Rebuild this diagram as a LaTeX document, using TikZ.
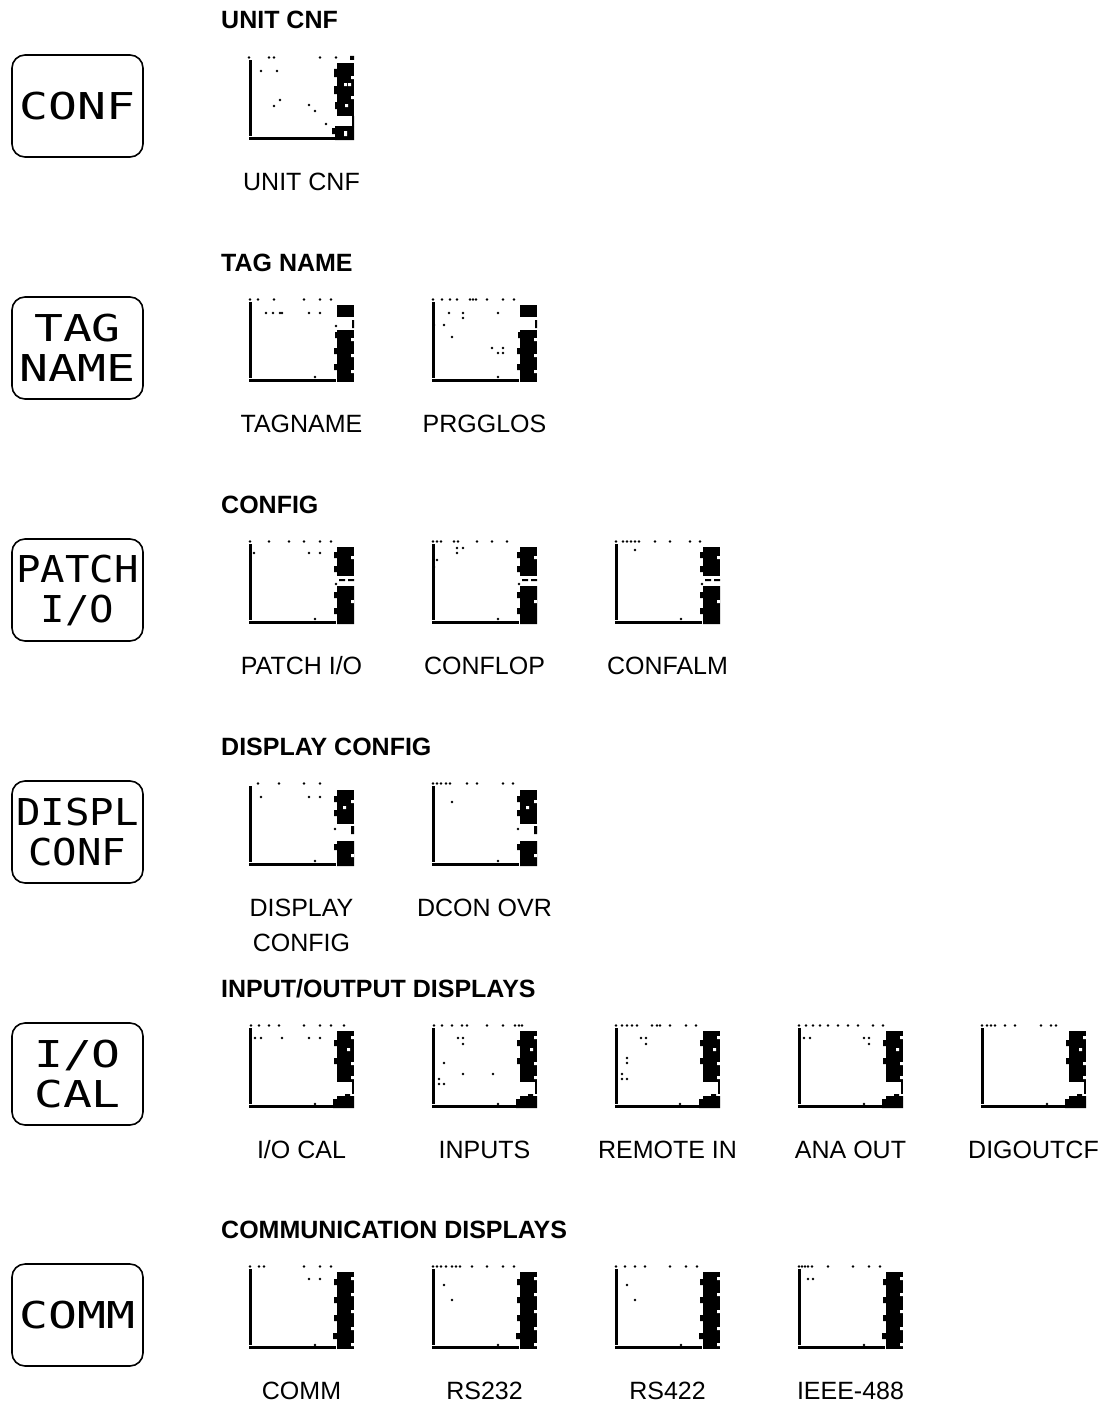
\documentclass[tikz,border=0pt]{standalone}
\usepackage{fontspec}
\setmainfont{Liberation Sans}
\newfontfamily\lcdwide[FakeStretch=1.3]{DejaVu Sans Mono}
\newfontfamily\lcdnarrow[FakeStretch=1.1]{DejaVu Sans Mono}
\usepackage{tikz}
\usetikzlibrary{positioning}
\tikzset{
  keybtn/.style={draw, line width=1.6pt, rounded corners=13pt, minimum width=131pt, minimum height=102pt, inner sep=0pt, align=center, font=\lcdwide\fontsize{37}{40}\selectfont},
  keynarrow/.style={keybtn, font=\lcdnarrow\fontsize{37}{40}\selectfont},
  grouphead/.style={anchor=base west, inner sep=0pt, font=\bfseries\fontsize{25}{30}\selectfont},
  screenbox/.style={rectangle, minimum width=105pt, minimum height=84pt, inner sep=0pt, outer sep=0pt},
  screenlabel/.style={inner sep=0pt, align=center, font=\fontsize{25}{35}\selectfont},
  slashlabel/.style={screenlabel, yshift=1pt},
}
\newcommand\screen[3]{%
  \begin{scope}[shift={(#1.north west)}]
    \fill (0,4) rectangle (2.5,80);
    \fill (0,81) rectangle (87,84);
    #2
    \foreach \px/\py in {#3} \fill (\px,\py) circle (1.4);
  \end{scope}}
\newcommand\blobunit{%
  \fill (88,7) rectangle (105,60);
  \fill (85,13) rectangle (88,21) (85,30) rectangle (88,38) (86,46) rectangle (88,53);
  \fill (86,70) rectangle (105,84) (83,72) rectangle (86,78);
  \fill (103,60) rectangle (105,70) (101,0) rectangle (105,4);
  \fill[white] (95,27) rectangle (98,30) (99,27) rectangle (102,30) (96,48) rectangle (99,51)
    (102,20) rectangle (105,23) (102,40) rectangle (105,43) (95,75) rectangle (98,80);}
\newcommand\blobtag{%
  \fill (88,7) rectangle (105,19);
  \fill (88,32) rectangle (105,84);
  \fill (86,34) rectangle (88,40) (85,50) rectangle (88,56) (85,66) rectangle (88,72) (103,22) rectangle (105,30);
  \fill[white] (102,40) rectangle (105,43) (102,56) rectangle (105,59) (102,72) rectangle (105,75);}
\newcommand\blobconfig{%
  \fill (88,7) rectangle (105,36);
  \fill (85,12) rectangle (88,18) (85,26) rectangle (88,32);
  \fill (90,39) rectangle (96,41) (99,39) rectangle (105,41);
  \fill (88,46) rectangle (105,84) (85,52) rectangle (88,58) (85,68) rectangle (88,74);
  \fill[white] (102,16) rectangle (105,19) (102,60) rectangle (105,63);}
\newcommand\blobdisp{%
  \fill (88,8) rectangle (105,42);
  \fill (85,14) rectangle (88,20) (85,28) rectangle (88,34) (102,44) rectangle (105,52);
  \fill (88,59) rectangle (105,84) (85,62) rectangle (88,68);
  \fill[white] (102,18) rectangle (105,21) (94,24) rectangle (97,27) (102,72) rectangle (105,75);}
\newcommand\blobio{%
  \fill (88,7) rectangle (105,58);
  \fill (85,16) rectangle (88,22) (85,34) rectangle (88,40);
  \fill (103,58) rectangle (105,70);
  \fill (88,72) rectangle (105,84) (84,75) rectangle (88,84) (96,70) rectangle (101,72);
  \fill[white] (102,12) rectangle (105,15) (98,24) rectangle (101,27) (102,38) rectangle (105,41) (102,52) rectangle (105,55);}
\newcommand\blobcomm{%
  \fill (88,7) rectangle (105,84);
  \fill (85,14) rectangle (88,20) (85,32) rectangle (88,38) (85,50) rectangle (88,56) (84,68) rectangle (88,74);
  \fill[white] (102,12) rectangle (105,15) (102,28) rectangle (105,31) (102,45) rectangle (105,48) (102,62) rectangle (105,65) (102,78) rectangle (105,81);}

\begin{document}
\begin{tikzpicture}[x=1pt,y=-1pt]
\useasboundingbox (0,0) rectangle (1112,1405);

% UNIT CNF
\node[grouphead] (hunit) at (221,29) {UNIT CNF};
\node[keybtn] (kconf) at (77.5,106) {CONF};
\node[screenbox] (sunit) at (301.5,98) {};
\node[screenlabel,below=33pt of sunit] (lunit) {UNIT CNF};
\screen{sunit}{\blobunit}{0/1.5,20/1.5,25/1.5,71/1.5,87/1.5,12/15,28/15,31/44,25/50,60/49,66/55,77/68}

% TAG NAME
\node[grouphead] (htag) at (221,271) {TAG NAME};
\node[keybtn] (ktag) at (77.5,348) {TAG\\NAME};
\node[screenbox] (stagname) at (301.5,340) {};
\node[screenbox,right=78pt of stagname] (sprgglos) {};
\node[screenlabel,below=33pt of stagname] (ltagname) {TAGNAME};
\node[screenlabel,below=33pt of sprgglos] (lprgglos) {PRGGLOS};
\screen{stagname}{\blobtag}{1/1.5,9/1.5,25/1.5,55/1.5,71/1.5,82/1.5,17/15,24/15,31/15,33/15,60/15,71/15,87/28,66/79}
\screen{sprgglos}{\blobtag}{1/1.5,10/1.5,18/1.5,25/1.5,38/1.5,41/1.5,44/1.5,55/1.5,71/1.5,82/1.5,17/15,31/15,31/20,66/15,2/27,12/27,20/39,60/50,71/50,66/55,71/55,66/79}

% CONFIG
\node[grouphead] (hconfig) at (221,513) {CONFIG};
\node[keynarrow] (kpatch) at (77.5,590) {PATCH\\I/O};
\node[screenbox] (spatch) at (301.5,582) {};
\node[screenbox,right=78pt of spatch] (sconflop) {};
\node[screenbox,right=78pt of sconflop] (sconfalm) {};
\node[slashlabel,below=33pt of spatch] (lpatch) {PATCH I/O};
\node[screenlabel,below=33pt of sconflop] (lconflop) {CONFLOP};
\node[screenlabel,below=33pt of sconfalm] (lconfalm) {CONFALM};
\screen{spatch}{\blobconfig}{1/1.5,20/1.5,40/1.5,55/1.5,71/1.5,82/1.5,5/13,60/13,71/13,87/44,66/79}
\screen{sconflop}{\blobconfig}{1/1.5,5/1.5,9/1.5,22/1.5,26/1.5,45/1.5,60/1.5,75/1.5,25/8,25/13,31/8,5/20,2/27,87/44,66/79}
\screen{sconfalm}{\blobconfig}{1/1.5,8/1.5,12/1.5,16/1.5,20/1.5,24/1.5,40/1.5,55/1.5,75/1.5,85/1.5,20/10,87/44,66/79}

% DISPLAY CONFIG
\node[grouphead] (hdispl) at (221,755) {DISPLAY CONFIG};
\node[keynarrow] (kdispl) at (77.5,832) {DISPL\\CONF};
\node[screenbox] (sdispconf) at (301.5,824) {};
\node[screenbox,right=78pt of sdispconf] (sdconovr) {};
\node[screenlabel,below=33pt of sdispconf] (ldispconf) {DISPLAY\\CONFIG};
\node[screenlabel,below=33pt of sdconovr] (ldconovr) {DCON OVR};
\screen{sdispconf}{\blobdisp}{9/1.5,30/1.5,55/1.5,71/1.5,12/15,60/15,71/15,86/47,66/79}
\screen{sdconovr}{\blobdisp}{1/1.5,5/1.5,9/1.5,14/1.5,18/1.5,35/1.5,45/1.5,71/1.5,81/1.5,20/20,86/47,66/79}

% INPUT/OUTPUT DISPLAYS
\node[grouphead] (hio) at (221,997) {INPUT/OUTPUT DISPLAYS};
\node[keybtn] (kio) at (77.5,1074) {I/O\\CAL};
\node[screenbox] (siocal) at (301.5,1066) {};
\node[screenbox,right=78pt of siocal] (sinputs) {};
\node[screenbox,right=78pt of sinputs] (sremote) {};
\node[screenbox,right=78pt of sremote] (sanaout) {};
\node[screenbox,right=78pt of sanaout] (sdigout) {};
\node[slashlabel,below=33pt of siocal] (liocal) {I/O CAL};
\node[screenlabel,below=33pt of sinputs] (linputs) {INPUTS};
\node[screenlabel,below=33pt of sremote] (lremote) {REMOTE IN};
\node[screenlabel,below=33pt of sanaout] (lanaout) {ANA OUT};
\node[screenlabel,below=33pt of sdigout] (ldigout) {DIGOUTCF};
\screen{siocal}{\blobio}{2/1.5,10/1.5,20/1.5,30/1.5,55/1.5,71/1.5,82/1.5,95/1.5,6/14,12/14,33/14,60/14,71/14,66/80}
\screen{sinputs}{\blobio}{2/1.5,10/1.5,20/1.5,30/1.5,35/1.5,55/1.5,71/1.5,83/1.5,87/1.5,90/1.5,26/14,31/14,31/20,12/39,31/50,61/50,7/55,7/60,12/60,66/80}
\screen{sremote}{\blobio}{1/1.5,7/1.5,12/1.5,17/1.5,22/1.5,37/1.5,42/1.5,45/1.5,55/1.5,71/1.5,81/1.5,26/14,31/14,31/20,12/34,12/39,7/50,7/55,12/55,65/80}
\screen{sanaout}{\blobio}{1/1.5,8/1.5,15/1.5,22/1.5,30/1.5,40/1.5,50/1.5,60/1.5,75/1.5,85/1.5,6/14,12/14,66/14,71/14,71/20,66/80}
\screen{sdigout}{\blobio}{1/1.5,6/1.5,10/1.5,14/1.5,24/1.5,34/1.5,60/1.5,70/1.5,75/1.5,66/80}

% COMMUNICATION DISPLAYS
\node[grouphead] (hcomm) at (221,1238) {COMMUNICATION DISPLAYS};
\node[keybtn] (kcomm) at (77.5,1315) {COMM};
\node[screenbox] (scomm) at (301.5,1307) {};
\node[screenbox,right=78pt of scomm] (srstwo) {};
\node[screenbox,right=78pt of srstwo] (srsfour) {};
\node[screenbox,right=78pt of srsfour] (sieee) {};
\node[screenlabel,below=33pt of scomm] (lcomm) {COMM};
\node[screenlabel,below=33pt of srstwo] (lrstwo) {RS232};
\node[screenlabel,below=33pt of srsfour] (lrsfour) {RS422};
\node[screenlabel,below=33pt of sieee] (lieee) {IEEE-488};
\screen{scomm}{\blobcomm}{1/1.5,10/1.5,15/1.5,55/1.5,71/1.5,82/1.5,60/14,71/14,66/80}
\screen{srstwo}{\blobcomm}{1/1.5,5/1.5,9/1.5,14/1.5,20/1.5,24/1.5,28/1.5,40/1.5,55/1.5,71/1.5,82/1.5,12/20,20/35,66/80}
\screen{srsfour}{\blobcomm}{1/1.5,10/1.5,20/1.5,30/1.5,55/1.5,71/1.5,82/1.5,12/20,20/35,66/80}
\screen{sieee}{\blobcomm}{1/1.5,4/1.5,7/1.5,10/1.5,14/1.5,30/1.5,55/1.5,71/1.5,82/1.5,10/14,15/14,66/80}
\end{tikzpicture}
\end{document}
